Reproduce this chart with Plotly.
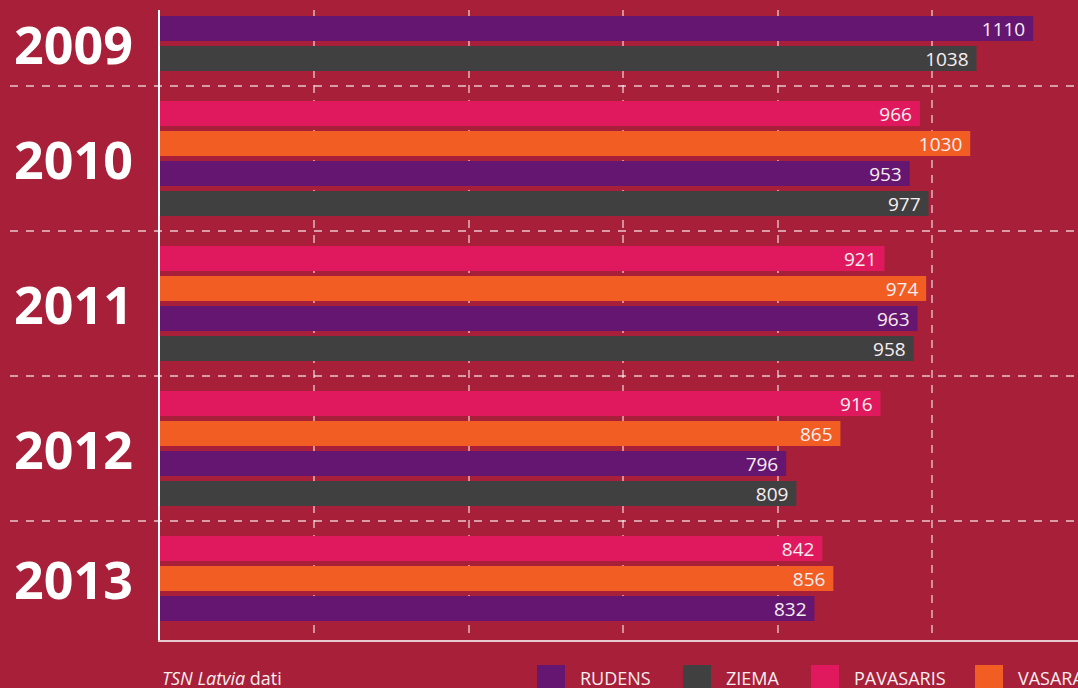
import plotly.graph_objects as go

# ---- data ----
years = ["2009", "2010", "2011", "2012", "2013"]
seasons = ["PAVASARIS", "VASARA", "RUDENS", "ZIEMA"]
pavasaris = [None, 966, 921, 916, 842]
vasara = [None, 1030, 974, 865, 856]
rudens = [1110, 953, 963, 796, 832]
ziema = [1038, 977, 958, 809, None]
legend_order = ["RUDENS", "ZIEMA", "PAVASARIS", "VASARA"]
source_text = "<i>TSN Latvia</i> dati"

values = {"PAVASARIS": pavasaris, "VASARA": vasara, "RUDENS": rudens, "ZIEMA": ziema}
colors = {"PAVASARIS": "#E0195F", "VASARA": "#F15D23", "RUDENS": "#641670", "ZIEMA": "#404041"}

BG = "#A71F38"
TXT = "#F7EEF0"
W, H = 1078, 688
ML, MR, MT, MB = 160, 0, 10, 48
PW, PH = W - ML - MR, H - MT - MB

GROUP = 145 / 30     # slot units per year group
BAR_W = 25 / 30


def pos(g, s):
    return g * GROUP + s


def px_x(p):
    return (p - ML) / PW


def px_y(p):
    return (H - MB - p) / PH


fig = go.Figure()
for s, name in enumerate(seasons):
    fig.add_trace(go.Bar(
        x=values[name],
        y=[pos(g, s) for g in range(len(years))],
        orientation="h",
        width=BAR_W,
        name=name,
        marker=dict(color=colors[name], line=dict(width=0)),
        texttemplate="%{x}\u00a0",
        textposition="inside",
        insidetextanchor="end",
        constraintext="none",
        textfont=dict(family="Open Sans", size=19, color=TXT),
        showlegend=False,
    ))

annotations = []
shapes = []
# year labels
for g, yr in enumerate(years):
    ps = [pos(g, s) for s, name in enumerate(seasons) if values[name][g] is not None]
    annotations.append(dict(
        x=0, xref="paper", xanchor="left", xshift=-148,
        y=sum(ps) / len(ps), yref="y", yanchor="middle",
        text=yr, showarrow=False,
        font=dict(family="Open Sans", size=52, weight=700, color="white"),
    ))
# group separators
for g in range(len(years) - 1):
    ysep = (pos(g, len(seasons) - 1) + pos(g + 1, 0)) / 2
    shapes.append(dict(
        type="line", xref="paper", x0=px_x(10), x1=1, yref="y", y0=ysep, y1=ysep,
        line=dict(color="rgba(255,255,255,0.75)", width=1.5, dash="8px,8px"),
        layer="below",
    ))
# manual legend
swatch_x = [537, 683, 811, 975]
for name, sx in zip(legend_order, swatch_x):
    shapes.append(dict(
        type="rect", xref="paper", yref="paper",
        x0=px_x(sx), x1=px_x(sx + 28), y0=px_y(665), y1=px_y(700),
        fillcolor=colors[name], line=dict(width=0),
    ))
    annotations.append(dict(
        x=px_x(sx + 41), xref="paper", xanchor="left",
        y=px_y(678), yref="paper", yanchor="middle",
        text=name, showarrow=False,
        font=dict(family="Open Sans", size=18, color=TXT),
    ))
annotations.append(dict(
    x=0, xref="paper", xanchor="left",
    y=px_y(678), yref="paper", yanchor="middle",
    text=source_text, showarrow=False,
    font=dict(family="Open Sans", size=18, color=TXT),
))

top_pos = (MT + 31.5) / 30
bot_pos = (H - MB + 31.5) / 30

fig.update_layout(
    width=W, height=H,
    margin=dict(l=ML, r=MR, t=MT, b=MB, pad=0),
    paper_bgcolor=BG, plot_bgcolor=BG,
    barmode="overlay",
    showlegend=False,
    annotations=annotations,
    shapes=shapes,
    xaxis=dict(
        range=[0, 1167], tick0=0, dtick=196.4,
        showgrid=True, gridcolor="rgba(255,255,255,0.5)", gridwidth=1.5, griddash="8px,7px",
        showticklabels=False, ticks="", zeroline=False,
        showline=True, linecolor="#E8C9CF", linewidth=2,
        fixedrange=True,
    ),
    yaxis=dict(
        range=[bot_pos, top_pos],
        showgrid=False, showticklabels=False, ticks="", zeroline=False,
        showline=True, linecolor="white", linewidth=1.5,
        fixedrange=True,
    ),
)

fig.write_html(
    "out.html",
    config={"displayModeBar": False},
    post_script="document.body.style.margin='0';document.body.style.padding='0';"
                "document.body.style.overflow='hidden';"
                "document.body.style.background='" + BG + "';",
)
